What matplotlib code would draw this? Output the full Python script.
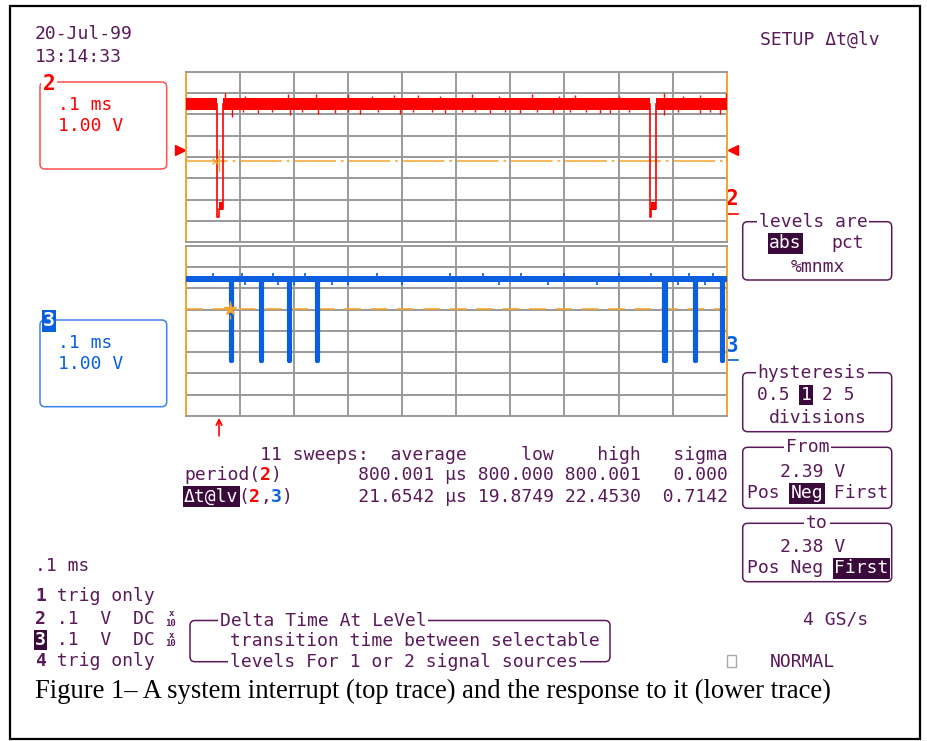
import numpy as np
import matplotlib
matplotlib.use("Agg")
import matplotlib.pyplot as plt
from matplotlib.patches import FancyBboxPatch, Rectangle

# ---- values ----
date_text = "20-Jul-99"
clock_text = "13:14:33"
setup_text = "SETUP \u0394t@lv"
timebase = ".1 ms"
ch_scale = "1.00 V"

# channel 2 (red, system interrupt), time in ms, level in V
red_high = 5.05
red_band = 0.28
red_edges = [0.0584, 0.8584]
red_pulse_dt = [0.0, 0.0, 0.0025, 0.0025, 0.0100, 0.0100, 0.0112, 0.0112]
red_pulse_v = [5.05, -0.25, -0.25, 0.10, 0.10, 3.20, 3.20, 5.05]
red_block = (0.0025, 0.0100, 0.07, 0.45)
red_up_t = [0.072, 0.11, 0.19, 0.24, 0.30, 0.345, 0.385, 0.43, 0.47, 0.53, 0.58,
            0.64, 0.69, 0.72, 0.80, 0.885, 0.92, 0.95, 0.998]
red_up_v = [5.55, 5.42, 5.5, 5.5, 5.5, 5.42, 5.45, 5.45, 5.42, 5.5, 5.42,
            5.5, 5.42, 5.45, 5.42, 5.55, 5.42, 5.45, 5.55]
red_dn_t = [0.085, 0.105, 0.133, 0.16, 0.192, 0.215, 0.244, 0.276, 0.30, 0.322, 0.355,
            0.396, 0.42, 0.455, 0.479, 0.51, 0.535, 0.562, 0.59, 0.618, 0.65, 0.679,
            0.71, 0.74, 0.765, 0.784, 0.82, 0.884, 0.91, 0.951, 0.97, 0.987]
red_dn_v = [4.44, 4.66, 4.62, 4.66, 4.53, 4.66, 4.57, 4.62, 4.66, 4.57, 4.66,
            4.57, 4.66, 4.66, 4.62, 4.66, 4.66, 4.62, 4.66, 4.62, 4.66, 4.62,
            4.66, 4.66, 4.62, 4.62, 4.66, 4.53, 4.66, 4.62, 4.66, 4.57]

# channel 3 (blue, response)
blue_high = 3.80
blue_band = 0.16
blue_low = -0.05
blue_dips = [0.0834, 0.139, 0.191, 0.243, 0.885, 0.941, 0.992]
blue_up_t = [0.05, 0.104, 0.161, 0.221, 0.354, 0.489, 0.55, 0.62, 0.70, 0.80, 0.86, 0.93, 0.975]
blue_dn_t = [0.11, 0.17, 0.20, 0.27, 0.30, 0.40, 0.58, 0.67, 0.76, 0.91, 0.96]
blue_up_v = 4.08
blue_dn_v = 3.52

level_from = 2.39
level_to = 2.38
trig_level = 2.88
cross_from = 0.055
cross_to = 0.0819

# measurement table
sweeps = 11
stat_names = ["period", "\u0394t@lv"]
stat_avg = ["800.001", "21.6542"]
stat_low = ["800.000", "19.8749"]
stat_high = ["800.001", "22.4530"]
stat_sigma = ["0.000", "0.7142"]

caption = "Figure 1\u2013 A system interrupt (top trace) and the response to it (lower trace)"

# ---- style ----
W, H = 927, 741
TXT = "#5a1a5a"
INV = "#3a0a3a"
RED = "#ff0000"
RED_BOX = "#ff5050"
BLUE = "#0a5fe0"
BLUE_BOX = "#3b82f0"
ORANGE = "#f2a52e"
GRID = "#9a9a9a"
MONO = "DejaVu Sans Mono"
FS = 13
CW = 0.602 * FS * 100 / 72

plt.rcParams["lines.scale_dashes"] = False

fig = plt.figure(figsize=(W / 100, H / 100), dpi=100)
bg = fig.add_axes([0, 0, 1, 1])
bg.set_xlim(0, W)
bg.set_ylim(H, 0)
bg.axis("off")


def rect(x0, y0, x1, y1):
    return [x0 / W, 1 - y1 / H, (x1 - x0) / W, (y1 - y0) / H]


def put(x, y, s, color=TXT, inv=None, bold=False, size=FS, ha="left", white=False):
    kw = dict(family=MONO, fontsize=size, color=color, va="center", ha=ha,
              fontweight="bold" if bold else "normal")
    if inv:
        kw["color"] = "white"
        kw["bbox"] = dict(boxstyle="square,pad=0.08", fc=inv, ec="none")
    elif white:
        kw["bbox"] = dict(boxstyle="square,pad=0.1", fc="white", ec="none")
    return bg.text(x, y, s, **kw)


def row(x, y, parts):
    col = 0
    for s, opts in parts:
        put(x + col * CW, y, s, **opts)
        col += len(s)


def box(x0, y0, x1, y1, ec=TXT):
    bg.add_patch(FancyBboxPatch((x0, y0), x1 - x0, y1 - y0,
                                boxstyle="round,pad=0,rounding_size=5",
                                fc="none", ec=ec, lw=1.1))


# outer frame
bg.add_patch(Rectangle((10.5, 5.5), 910, 733, fc="none", ec="black", lw=1.6))

# ---- scope grids (8 divisions of 1 V, 10 divisions of 0.1 ms) ----
def scope(r, vmin):
    ax = fig.add_axes(r)
    ax.set_xlim(0, 1.0)
    ax.set_ylim(vmin, vmin + 8)
    ax.set_xticks(np.linspace(0, 1.0, 11))
    ax.set_yticks(np.linspace(vmin, vmin + 8, 9))
    ax.tick_params(length=0, labelbottom=False, labelleft=False)
    ax.grid(True, color=GRID, lw=1.4)
    ax.set_axisbelow(True)
    for side in ("top", "bottom"):
        ax.spines[side].set_color(GRID)
        ax.spines[side].set_linewidth(1.4)
    for side in ("left", "right"):
        ax.spines[side].set_color(ORANGE)
        ax.spines[side].set_linewidth(1.4)
    return ax


# level lines sit 4.17 div below the top of the upper grid, 2.99 div below the lower one
top = scope(rect(185.7, 71.7, 726.7, 242.3), level_from + 4.169 - 8)
bot = scope(rect(185.7, 245.7, 726.7, 416.0), level_to + 2.986 - 8)

# red trace
seg_start = [0.0] + [e + 0.0112 for e in red_edges]
seg_end = red_edges + [1.0]
for a, b in zip(seg_start, seg_end):
    top.fill_between([a, b], red_high - red_band, red_high + red_band, color=RED, lw=0, zorder=3)
for e in red_edges:
    top.plot([e + d for d in red_pulse_dt], red_pulse_v, color=RED, lw=1.2, zorder=3)
    top.fill_between([e + red_block[0], e + red_block[1]], red_block[2], red_block[3],
                     color=RED, lw=0, zorder=3)
top.vlines(red_up_t, red_high, red_up_v, color=RED, lw=1.0, zorder=3)
top.vlines(red_dn_t, red_high, red_dn_v, color=RED, lw=1.0, zorder=3)

top.plot([0, 1.0], [level_from] * 2, color=ORANGE, lw=1.1, dashes=(30, 3.5, 2, 3.5), zorder=2)
top.plot([cross_from], [level_from], marker="x", ms=5, mew=1, color=ORANGE, zorder=4)
top.plot([0.0611, 0.0611], [level_from - 0.5, level_from + 0.5], color=ORANGE, lw=1.0, zorder=2)
top.plot([-0.0105], [trig_level], marker=">", ms=7, color=RED, clip_on=False)
top.plot([1.0117], [trig_level], marker="<", ms=7, color=RED, clip_on=False)

# blue trace
bt, bv = [0.0], [blue_high]
for d in blue_dips:
    bt += [d, d, d + 0.002, d + 0.002]
    bv += [blue_high, blue_low, blue_low, blue_high]
bt.append(1.0)
bv.append(blue_high)
bot.fill_between([0, 1.0], blue_high - blue_band, blue_high + blue_band, color=BLUE, lw=0, zorder=3)
bot.plot(bt, bv, color=BLUE, lw=3.0, solid_joinstyle="round", zorder=3)
bot.vlines(blue_up_t, blue_high, blue_up_v, color=BLUE, lw=1.2, zorder=3)
bot.vlines(blue_dn_t, blue_high, blue_dn_v, color=BLUE, lw=1.2, zorder=3)

bot.plot([0, 1.0], [level_to] * 2, color=ORANGE, lw=1.2, dashes=(12, 7), zorder=2)
bot.plot([cross_to, cross_to], [level_to - 0.45, level_to + 0.45], color=ORANGE, lw=1.0,
         dashes=(3, 2), zorder=4)
bot.plot([cross_to], [level_to], marker="*", ms=9, color=ORANGE, zorder=4)
bot.annotate("", xy=(0.0616, level_to - 5.1), xytext=(0.0616, level_to - 5.95),
             arrowprops=dict(arrowstyle="->", color=RED, lw=1.2, shrinkA=0, shrinkB=0),
             annotation_clip=False)

# ---- text around the screen ----
put(35, 34, date_text)
put(35, 57, clock_text)
put(760, 40, setup_text)

# channel boxes
box(40, 82, 166.7, 169, ec=RED_BOX)
put(49, 84, "2", color=RED, bold=True, size=15, ha="center", white=True)
put(58, 105, timebase, color=RED)
put(58, 126, ch_scale, color=RED)

box(40, 320, 166.7, 406.7, ec=BLUE_BOX)
put(49, 321, "3", inv=BLUE, bold=True, size=14, ha="center")
put(58, 343, timebase, color=BLUE)
put(58, 364, ch_scale, color=BLUE)

# trace labels at right edge
put(732.5, 199, "2", color=RED, bold=True, size=15, ha="center")
bg.plot([727, 738], [213.5, 213.5], color=RED, lw=1.2)
put(732.5, 346, "3", color=BLUE, bold=True, size=15, ha="center")
bg.plot([727, 738], [359.5, 359.5], color=BLUE, lw=1.2)

# measurement table
x0 = 184
row(x0, 455, [("       %d sweeps:  average     low    high   sigma" % sweeps, {})])
row(x0, 475.5, [("period(", {}), ("2", dict(color=RED, bold=True)), (")", {}),
                ("       %s \u00b5s %s %s   %s" % (stat_avg[0], stat_low[0], stat_high[0], stat_sigma[0]), {})])
row(x0, 496.5, [(stat_names[1], dict(inv=INV)), ("(", {}), ("2", dict(color=RED, bold=True)),
                (",", {}), ("3", dict(color=BLUE, bold=True)), (")", {}),
                ("      %s \u00b5s %s %s  %s" % (stat_avg[1], stat_low[1], stat_high[1], stat_sigma[1]), {})])

# right-hand menu boxes
box(742.7, 221.7, 891.7, 280)
put(813, 221.7, "levels are", ha="center", white=True)
put(785.3, 243.3, "abs", inv=INV, ha="center")
put(847.5, 243.3, "pct", ha="center")
put(818, 266.7, "%mnmx", ha="center")

box(742.7, 372.7, 891.7, 431.7)
put(812, 372.7, "hysteresis", ha="center", white=True)
row(757, 395, [("0.5 ", {}), ("1", dict(inv=INV)), (" 2 5", {})])
put(817.5, 418.3, "divisions", ha="center")

box(742.7, 447.3, 891.7, 508.3)
put(807.5, 447.3, "From", ha="center", white=True)
put(812.5, 471.7, "2.39 V", ha="center")
row(747, 493.3, [("Pos ", {}), ("Neg", dict(inv=INV)), (" First", {})])

box(742.7, 523.3, 891.7, 581.7)
put(817, 523.3, "to", ha="center", white=True)
put(812.5, 546.7, "2.38 V", ha="center")
row(747, 568.3, [("Pos Neg ", {}), ("First", dict(inv=INV))])

# bottom-left channel list
put(35, 566, timebase)
row(35, 596, [("1", dict(bold=True)), (" trig only", {})])
row(35, 619, [("2", dict(bold=True)), (" .1  V  DC", {})])
row(35, 640, [("3", dict(inv=INV, bold=True)), (" .1  V  DC", {})])
row(35, 661, [("4", dict(bold=True)), (" trig only", {})])
for y in (619, 640):
    put(171, y - 5, "x", size=6.5, ha="center", bold=True)
    put(171, y + 4, "10", size=6.5, ha="center", bold=True)

# help box
box(190, 620.5, 610, 661.7)
put(220, 620.5, "Delta Time At LeVel", white=True)
put(230, 641, "transition time between selectable")
put(230, 661.7, "levels For 1 or 2 signal sources", white=True)

put(803, 620, "4 GS/s")
bg.add_patch(Rectangle((727.5, 654.5), 9, 12, fc="none", ec="#aaaaaa", lw=1))
put(770, 662, "NORMAL")

cap = bg.text(35, 691, caption, family="Liberation Serif", fontsize=14.5, color="black",
              va="center", ha="left")
fig.canvas.draw()
cw = cap.get_window_extent().width
cap.set_fontsize(14.5 * 797 / cw)

fig.savefig("out.png", dpi=100)
